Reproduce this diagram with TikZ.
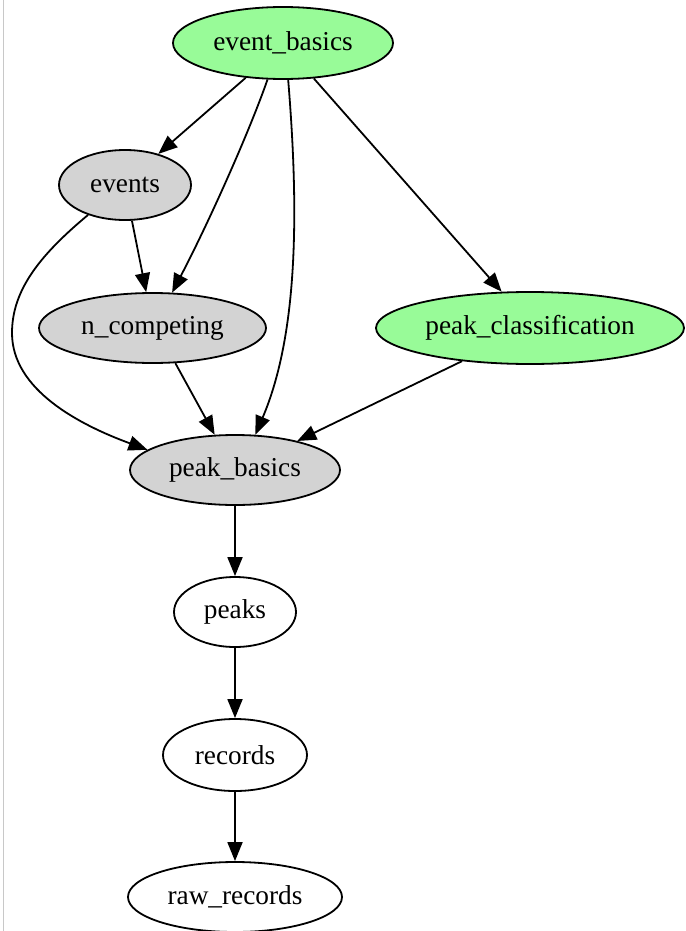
\documentclass[tikz,border=0pt]{standalone}
\usepackage{fontspec}
\setmainfont{Liberation Serif}
\usetikzlibrary{shapes.geometric,arrows.meta}
\definecolor{palegreen}{HTML}{98FB98}
\definecolor{lgray}{HTML}{D3D3D3}
\definecolor{framecol}{HTML}{C8C8C8}
\begin{document}
\begin{tikzpicture}[x=1pt,y=-1pt,
  nd/.style={ellipse,draw=black,line width=1.8pt,inner sep=0pt,font=\fontsize{27.3}{32}\selectfont},
  greennode/.style={nd,fill=palegreen},
  greynode/.style={nd,fill=lgray},
  plainnode/.style={nd,fill=white},
  edge/.style={line width=1.8pt,-{Triangle[length=19pt,width=15pt]}}]
\useasboundingbox (0,0) rectangle (685,931);
\fill[white] (0,0) rectangle (685,931);
\draw[framecol,line width=1pt] (3,0) -- (3,931);
\node[greennode,minimum width=220pt,minimum height=72pt] (eb) at (283,43) {event\_basics};
\node[greynode,minimum width=132pt,minimum height=70pt] (ev) at (125,185) {events};
\node[greynode,minimum width=227pt,minimum height=70pt] (nc) at (152.5,328) {n\_competing};
\node[greennode,minimum width=308pt,minimum height=72pt] (pc) at (530,328) {peak\_classification};
\node[greynode,minimum width=210pt,minimum height=70pt] (pb) at (235,470) {peak\_basics};
\node[plainnode,minimum width=122pt,minimum height=70pt] (pk) at (235,612) {peaks};
\node[plainnode,minimum width=144pt,minimum height=72pt] (rc) at (235,755) {records};
\node[plainnode,minimum width=214pt,minimum height=70pt] (rr) at (235,897) {raw\_records};
\draw[edge] (eb.223) -- (ev.43);
\draw[edge] (eb.247) .. controls (250,130) and (210,220) .. (nc.61);
\draw[edge] (eb.278) .. controls (298,200) and (300,330) .. (pb.60);
\draw[edge] (eb.311) -- (pc.128);
\draw[edge] (ev.281) -- (nc.100);
\draw[edge] (ev.219) .. controls (40,255) and (12,290) .. (12,333) .. controls (12,390) and (80,425) .. (pb.167);
\draw[edge] (nc.303) -- (pb.120);
\draw[edge] (pc.206) -- (pb.25);
\draw[edge] (pb.south) -- (pk.north);
\draw[edge] (pk.south) -- (rc.north);
\draw[edge] (rc.south) -- (rr.north);
\end{tikzpicture}
\end{document}
